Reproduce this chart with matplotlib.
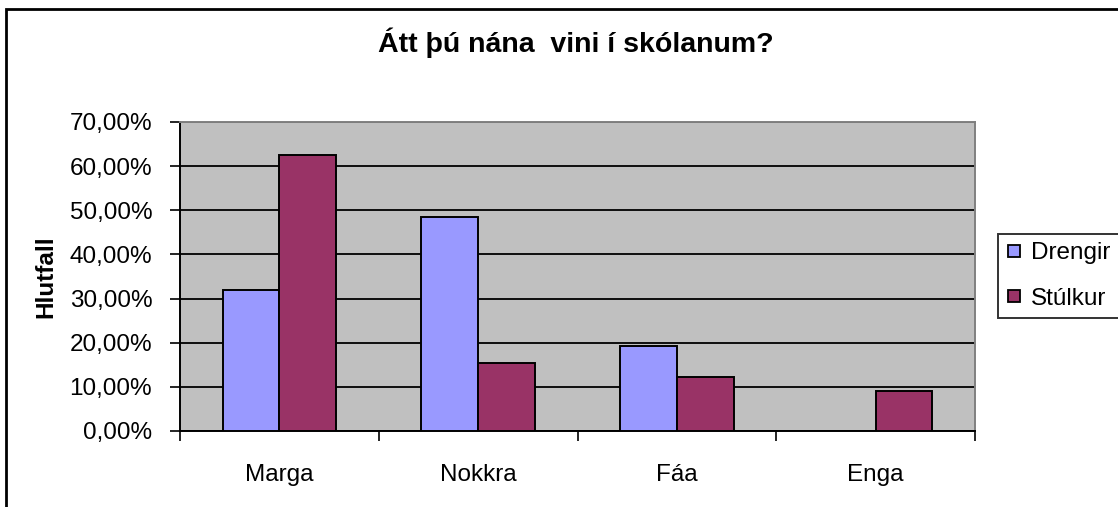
import matplotlib.pyplot as plt
import matplotlib.ticker as tick
from matplotlib.lines import Line2D
from matplotlib.patches import Rectangle
import numpy as np

# data
categories = ['Marga', 'Nokkra', 'Fáa', 'Enga']
series_names = ['Drengir', 'Stúlkur']
drengir = [0.320, 0.484, 0.193, 0.0]
stulkur = [0.625, 0.153, 0.122, 0.091]
colors = ['#9999FF', '#993366']

plt.rcParams['font.family'] = ['Liberation Sans', 'DejaVu Sans']

W, H = 1118, 507
fig = plt.figure(figsize=(W / 100, H / 100), dpi=100)
ax = fig.add_axes([180 / W, 1 - 431 / H, (975 - 180) / W, (431 - 122) / H])

# outer chart border (runs off the right and bottom of the image)
fig.patches.append(Rectangle((6 / W, -0.1), 1.2, 1 - 9 / H + 0.1,
                             transform=fig.transFigure, fill=False,
                             edgecolor='black', linewidth=2))

x = np.arange(len(categories))
width = 1 / 3.5  # Excel gap width 150%
for i, (vals, name) in enumerate(zip([drengir, stulkur], series_names)):
    ax.bar(x + (i - 0.5) * width, vals, width, color=colors[i],
           edgecolor='black', linewidth=1.4, label=name, zorder=3)

ax.set_facecolor('#C0C0C0')
ax.set_xlim(-0.5, len(categories) - 0.5)
ax.set_ylim(0, 0.7)
ax.yaxis.set_major_locator(tick.MultipleLocator(0.1))
ax.yaxis.set_major_formatter(tick.FuncFormatter(
    lambda v, p: f'{v * 100:.2f}%'.replace('.', ',')))
ax.grid(axis='y', color='black', linewidth=1.3, zorder=1)

ax.set_xticks(x)
ax.set_xticklabels(categories)
ax.set_xticks(np.arange(-0.5, len(categories)), minor=True)
ax.tick_params(axis='x', which='major', length=0, pad=24, labelsize=17.5)
ax.tick_params(axis='x', which='minor', length=7, width=1.2, direction='out')
ax.tick_params(axis='y', length=7, width=1.2, direction='out', pad=13,
               labelsize=17.5)

for s in ['left', 'bottom']:
    ax.spines[s].set_color('black')
    ax.spines[s].set_linewidth(1.4)
for s in ['top', 'right']:
    ax.spines[s].set_color('#808080')
    ax.spines[s].set_linewidth(1.4)

ax.set_ylabel('Hlutfall', fontsize=17.5, fontweight='bold', labelpad=9)
fig.text(576 / W, 1 - 43 / H, 'Átt þú nána  vini í skólanum?', ha='center',
         va='center', fontsize=20.5, fontweight='bold')

handles = [Line2D([], [], marker='s', linestyle='none', markersize=8,
                  markerfacecolor=c, markeredgecolor='black',
                  markeredgewidth=1.3) for c in colors]
leg = fig.legend(handles, series_names, loc='center left',
                 bbox_to_anchor=(998 / W, 1 - 276 / H), fontsize=17.5,
                 frameon=True, fancybox=False, edgecolor='black',
                 handlelength=0.6, handletextpad=0.4, borderpad=0.35,
                 labelspacing=0.95, borderaxespad=0)
leg.get_frame().set_linewidth(1.4)

fig.savefig('out.png', dpi=100)
